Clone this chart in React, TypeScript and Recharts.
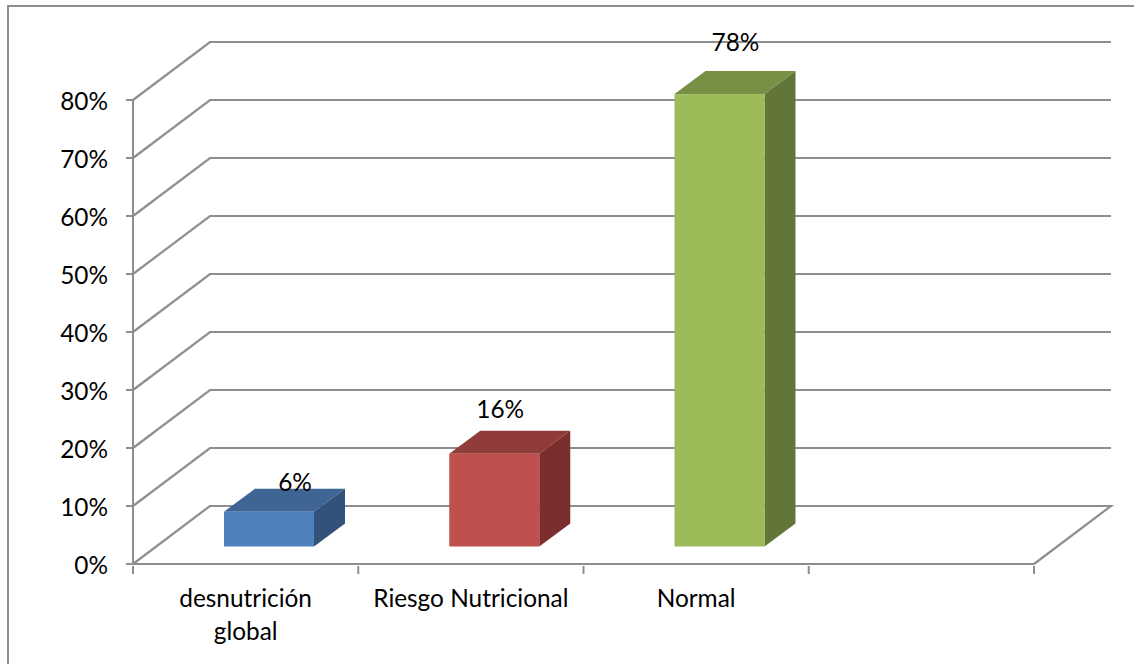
import { BarChart, Bar, Cell, XAxis, YAxis, CartesianGrid, LabelList } from "recharts";

const categories = ["desnutrición\nglobal", "Riesgo Nutricional", "Normal", ""];
const values = [6, 16, 78, null];
const yTicks = [0, 10, 20, 30, 40, 50, 60, 70, 80];

const frontColors = ["#4f81bd", "#c0504d", "#9bbb59"];
const topColors = ["#3e6593", "#8f3c3a", "#789045"];
const sideColors = ["#32527a", "#7a2f2e", "#63763a"];

// hand-placed data labels, relative to the bar top
const labelShiftX = [49, 29, 39];
const labelShiftY = [-48, -63, -70];

const data = categories.map((name, i) => ({ name, value: values[i] }));

const GRID = "#8e8e8e";
const FONT = "Lato, Carlito, sans-serif";
const FONT_SIZE = 24.4;

// wall/floor depth of the 3D box
const WALL_X = 77;
const WALL_Y = 58;
// where a bar sits on the floor
const FLOOR_X = 23;
const FLOOR_Y = 17.5;
// depth of the bar itself
const BAR_X = 31;
const BAR_Y = 23;

// side wall + back wall line for each tick; the zero line also closes the floor
const GridLine = (props: any) => {
  const { x1, x2, y1, y, height } = props;
  const isFloor = y1 >= y + height - 0.5;
  const pts = [
    [x1, y1],
    [x1 + WALL_X, y1 - WALL_Y],
    [x2 + WALL_X, y1 - WALL_Y],
  ];
  if (isFloor) pts.push([x2, y1]);
  return (
    <polyline
      points={pts.map((p) => p.join(",")).join(" ")}
      fill="none"
      stroke={GRID}
      strokeWidth={2.2}
    />
  );
};

const Box = (props: any) => {
  const { x, y, width, height, index } = props;
  if (!height) return null;
  const l = x + FLOOR_X;
  const r = l + width;
  const t = y - FLOOR_Y;
  const b = t + height;
  return (
    <g>
      <polygon
        points={`${l},${t} ${l + BAR_X},${t - BAR_Y} ${r + BAR_X},${t - BAR_Y} ${r},${t}`}
        fill={topColors[index]}
      />
      <polygon
        points={`${r},${t} ${r + BAR_X},${t - BAR_Y} ${r + BAR_X},${b - BAR_Y} ${r},${b}`}
        fill={sideColors[index]}
      />
      <rect x={l} y={t} width={width} height={height} fill={frontColors[index]} />
    </g>
  );
};

const CategoryTick = (props: any) => {
  const { x, y, payload, index } = props;
  const half = payload.offset ?? 0;
  const lines = String(payload.value).split("\n");
  return (
    <g>
      <line x1={x - half} x2={x - half} y1={y - 8} y2={y} stroke={GRID} strokeWidth={2} />
      {index === categories.length - 1 && (
        <line x1={x + half} x2={x + half} y1={y - 8} y2={y} stroke={GRID} strokeWidth={2} />
      )}
      <text x={x} y={y + 33} textAnchor="middle" fontFamily={FONT} fontSize={FONT_SIZE} fill="#000">
        {lines.map((line: string, i: number) => (
          <tspan key={i} x={x} dy={i === 0 ? 0 : 33}>
            {line}
          </tspan>
        ))}
      </text>
    </g>
  );
};

const ValueLabel = (props: any) => {
  const { x, y, value, index } = props;
  if (value == null) return null;
  return (
    <text
      x={x + labelShiftX[index] + 45}
      y={y + labelShiftY[index]}
      textAnchor="middle"
      dominantBaseline="central"
      fontFamily={FONT}
      fontSize={FONT_SIZE}
      fill="#000"
    >
      {`${value}%`}
    </text>
  );
};

export default function App() {
  return (
    <div style={{ position: "absolute", left: 0, top: 0, width: 1134, height: 664, background: "#fff" }}>
      <div
        style={{
          position: "absolute",
          left: 7,
          top: 5,
          right: 0,
          bottom: 0,
          borderTop: "2px solid #8e8e8e",
          borderLeft: "2px solid #8e8e8e",
        }}
      />
      <BarChart
        width={1134}
        height={664}
        data={data}
        margin={{ top: 100, right: 100, bottom: 0, left: 63 }}
        barSize={90}
        style={{ position: "absolute", left: 0, top: 0 }}
      >
        <CartesianGrid vertical={false} horizontal={(p: any) => <GridLine {...p} />} />
        <XAxis
          dataKey="name"
          interval={0}
          height={100}
          axisLine={{ stroke: GRID, strokeWidth: 2 }}
          tickLine={false}
          tick={(p: any) => <CategoryTick {...p} />}
          tickSize={8}
        />
        <YAxis
          width={70}
          domain={[0, 80]}
          ticks={yTicks}
          interval={0}
          tickFormatter={(v: number) => `${v}%`}
          axisLine={{ stroke: GRID, strokeWidth: 2 }}
          tickLine={{ stroke: GRID, strokeWidth: 2 }}
          tickSize={7}
          tickMargin={18}
          tick={{ fill: "#000", fontFamily: FONT, fontSize: FONT_SIZE, dy: 1 }}
        />
        <Bar dataKey="value" isAnimationActive={false} shape={(p: any) => <Box {...p} />}>
          {data.map((d, i) => (
            <Cell key={d.name} fill={frontColors[i] ?? "none"} />
          ))}
          <LabelList dataKey="value" content={(p: any) => <ValueLabel {...p} />} />
        </Bar>
      </BarChart>
    </div>
  );
}
